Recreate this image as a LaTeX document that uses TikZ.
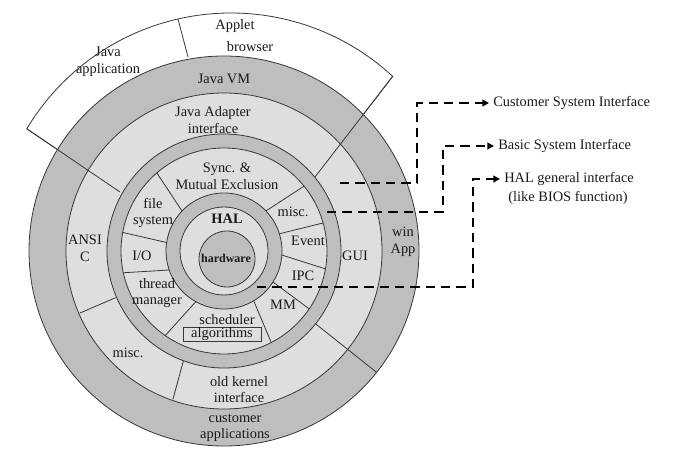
\documentclass[tikz,border=0pt]{standalone}
\usepackage{fontspec}
\setmainfont{Liberation Serif}
\usetikzlibrary{arrows.meta,calc}
\definecolor{ringdark}{RGB}{190,190,190}
\definecolor{ringlight}{RGB}{222,222,222}
\definecolor{edge}{RGB}{55,55,55}
\begin{document}
\begin{tikzpicture}[x=0.75pt,y=0.75pt,
  lbl/.style={font=\fontsize{10.8}{12.6}\selectfont, align=center, inner sep=0pt, text=black!90},
  ringline/.style={draw=edge, line width=0.6pt},
  conn/.style={draw=black, line width=1.9pt, dash pattern=on 7pt off 4.5pt, -{Triangle[length=5pt,width=5pt]}, shorten >=3pt}]
\useasboundingbox (0,0) rectangle (680,467);
\coordinate (C) at (224,216);
\coordinate (W) at (231,216);
% white Java sector
\filldraw[fill=white, ringline] ($(W)+(149.1:238)$) coordinate (WL) arc[start angle=149.1, end angle=47.2, radius=238] coordinate (WR) -- (315,290) -- (120,275) -- cycle;
% rings
\filldraw[fill=ringdark, ringline] (C) circle[radius=195];
\filldraw[fill=ringlight, ringline] (C) circle[radius=158];
\filldraw[fill=ringdark, ringline] (C) circle[radius=117];
\filldraw[fill=ringlight, ringline] (C) circle[radius=103];
\filldraw[fill=ringdark, ringline] (C) circle[radius=58];
\filldraw[fill=ringlight, ringline] (C) circle[radius=44];
\filldraw[fill=ringdark, ringline] (227,208) circle[radius=28];
% outer dividers
\draw[ringline] (WL) -- (120,275);
\draw[ringline] (WR) -- (315,290);
\draw[ringline] (178,448) -- (188,410);
\draw[ringline] ($(C)+(203.3:118)$) -- ($(C)+(203.3:157)$);
\draw[ringline] ($(C)+(249.7:117)$) -- ($(C)+(251:157)$);
\draw[ringline] ($(C)+(321.5:117)$) -- ($(C)+(321.5:195)$);
% module dividers
\foreach \a/\b in {136.4/130.7, 171.6/169.6, 199.1/192.2, 240.9/235.2, 300.8/297.3, 327.7/325.8, 356/350, 17.3/15.8, 43.7/39}
  \draw[ringline] ($(C)+(\a:58)$) -- ($(C)+(\b:103)$);
% labels
\node[lbl] (applet) at (235,441) {Applet};
\node[lbl] (browser) at (250,420) {browser};
\node[lbl] (japp) at (108,405) {Java\\application};
\node[lbl] (jvm) at (224,388) {Java VM};
\node[lbl] (jadapt) at (213,347) {Java Adapter\\interface};
\node[lbl] (sync) at (227,290.5) {Sync. \&\\Mutual Exclusion};
\node[lbl] (fs) at (153,254) {file\\system};
\node[lbl, font=\fontsize{10.8}{12.6}\selectfont\bfseries] (hal) at (227,248) {HAL};
\node[lbl, font=\fontsize{9}{10}\selectfont\bfseries] (hw) at (226,209) {hardware};
\node[lbl] (io) at (142,211) {I/O};
\node[lbl] (ansi) at (85,218.5) {ANSI\\C};
\node[lbl] (thread) at (157,174) {thread\\manager};
\node[lbl] (sched) at (227,147) {scheduler};
\node[lbl, draw=edge, line width=0.6pt, inner ysep=0.6pt, minimum width=58.5pt] (algo) at (222,132.5) {algorithms};
\node[lbl] (mm) at (283,162) {MM};
\node[lbl] (ipc) at (303,191) {IPC};
\node[lbl] (event) at (308,226) {Event};
\node[lbl] (misc1) at (293,255) {misc.};
\node[lbl] (gui) at (355,211) {GUI};
\node[lbl] (win) at (403,225) {win\\App};
\node[lbl] (misc2) at (128,114) {misc.};
\node[lbl] (oldk) at (239,77.5) {old kernel\\interface};
\node[lbl] (cust) at (235,39) {customer\\applications};
% interface labels
\node[lbl, anchor=west] (csi) at (493,364) {Customer System Interface};
\node[lbl, anchor=west] (bsi) at (498,321) {Basic System Interface};
\node[lbl, anchor=west] (hgi) at (504,288) {HAL general interface};
\node[lbl] (bios) at (568,269) {(like BIOS function)};
% dashed connectors
\coordinate (s1) at (340,284);
\coordinate (s2) at (327,255);
\coordinate (s3) at (257,180);
\draw[conn] (s1) -- (417,284) -- (417,364) -- (csi.west);
\draw[conn] (s2) -- (443,255) -- (443,321) -- (bsi.west);
\draw[conn] (s3) -- (473,180) -- (473,288) -- (hgi.west);
\end{tikzpicture}
\end{document}
